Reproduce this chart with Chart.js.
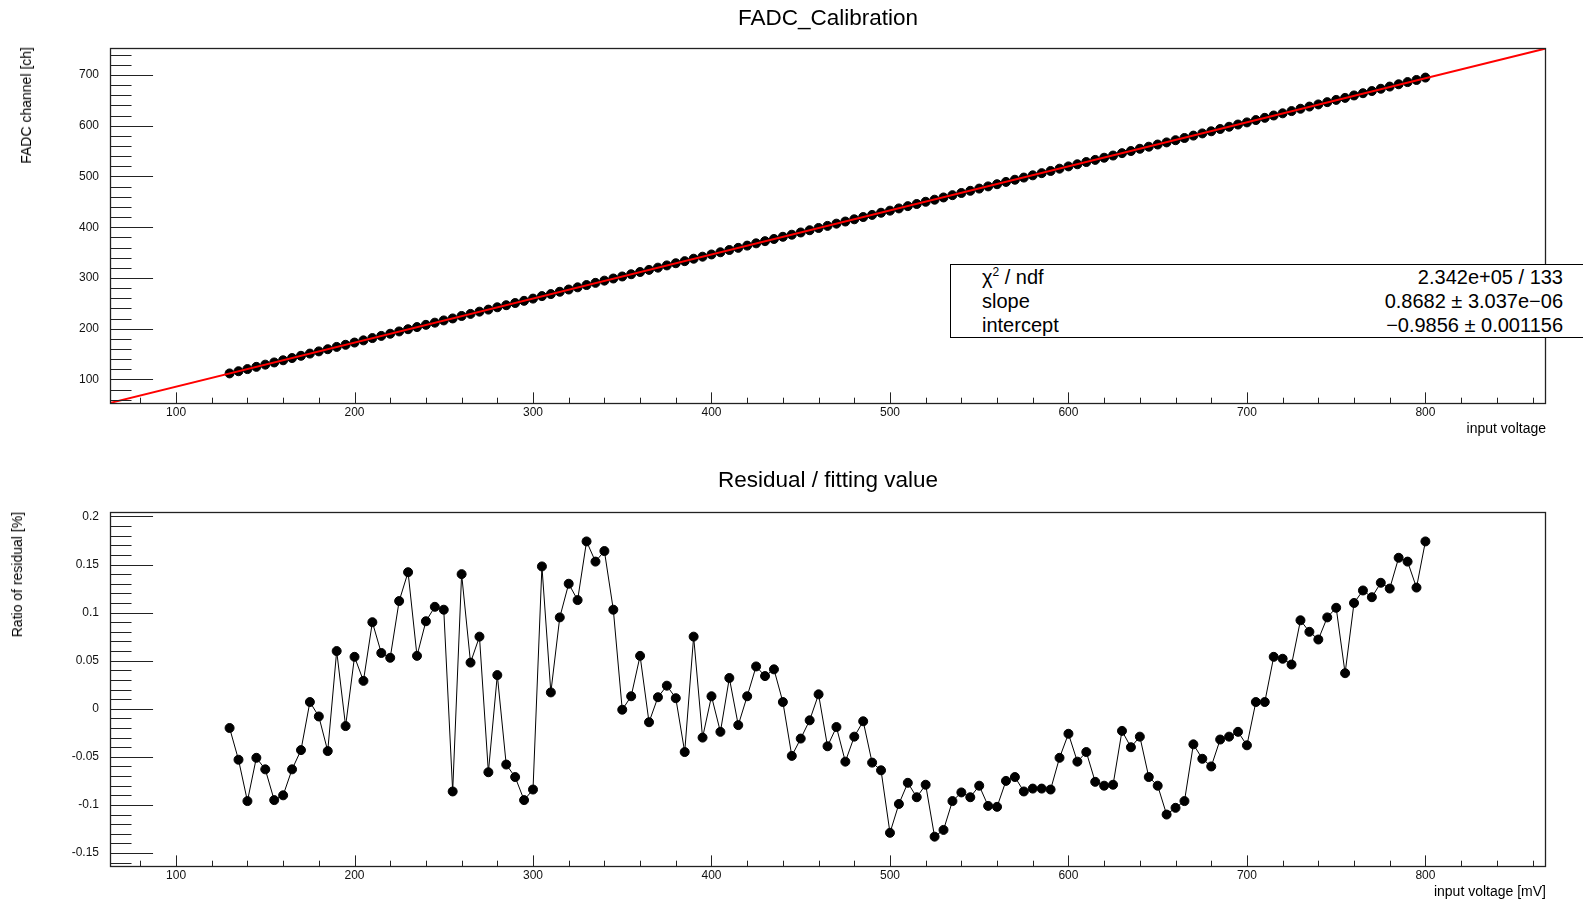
<!DOCTYPE html>
<html>
<head>
<meta charset="utf-8">
<script src="https://cdn.jsdelivr.net/npm/chart.js@4.4.0/dist/chart.umd.min.js"></script>
<style>
  html, body { margin: 0; padding: 0; background: #fff; overflow: hidden; }
  body { width: 1583px; height: 899px; position: relative; font-family: "Liberation Sans", Arial, sans-serif; color: #000; }
  canvas { position: absolute; left: 0; }
  .titulo { position: absolute; font-size: 22.5px; line-height: 26px; white-space: nowrap; transform: translate(-50%, -50%); }
  .ytitulo { position: absolute; font-size: 14px; line-height: 16px; white-space: nowrap; transform-origin: 0 0; transform: rotate(-90deg) translateX(-100%); }
  .xtitulo { position: absolute; right: 37px; font-size: 14px; line-height: 16px; white-space: nowrap; }
  #stats { position: absolute; left: 950px; top: 264px; width: 700px; height: 72px; border: 1px solid #000; background: #fff; font-size: 20px; }
  #stats .fila { position: absolute; left: 31px; width: 581px; height: 24px; line-height: 24px; display: flex; justify-content: space-between; }
  #stats sup { font-size: 12px; line-height: 0; vertical-align: 8px; }
</style>
</head>
<body>
<canvas id="graficoCal" width="1583" height="450" style="top:0"></canvas>
<canvas id="graficoRes" width="1583" height="449" style="top:450px"></canvas>

<div class="titulo" style="left:828px; top:18px">FADC_Calibration</div>
<div class="titulo" style="left:828px; top:480px">Residual / fitting value</div>
<div class="ytitulo" style="left:18px; top:47px">FADC channel [ch]</div>
<div class="ytitulo" style="left:9px; top:512px">Ratio of residual [%]</div>
<div class="xtitulo" style="top:420px">input voltage</div>
<div class="xtitulo" style="top:883px">input voltage [mV]</div>

<div id="stats">
  <div class="fila" style="top:0"><span>&chi;<sup>2</sup> / ndf</span><span>2.342e+05 / 133</span></div>
  <div class="fila" style="top:24px"><span>slope</span><span>0.8682 &plusmn; 3.037e&minus;06</span></div>
  <div class="fila" style="top:48px"><span>intercept</span><span>&minus;0.9856 &plusmn; 0.001156</span></div>
</div>

<script>
// input voltage [mV]
var voltaje = [130, 135, 140, 145, 150, 155, 160, 165, 170, 175, 180, 185, 190, 195, 200, 205, 210, 215, 220, 225,
    230, 235, 240, 245, 250, 255, 260, 265, 270, 275, 280, 285, 290, 295, 300, 305, 310, 315, 320, 325,
    330, 335, 340, 345, 350, 355, 360, 365, 370, 375, 380, 385, 390, 395, 400, 405, 410, 415, 420, 425,
    430, 435, 440, 445, 450, 455, 460, 465, 470, 475, 480, 485, 490, 495, 500, 505, 510, 515, 520, 525,
    530, 535, 540, 545, 550, 555, 560, 565, 570, 575, 580, 585, 590, 595, 600, 605, 610, 615, 620, 625,
    630, 635, 640, 645, 650, 655, 660, 665, 670, 675, 680, 685, 690, 695, 700, 705, 710, 715, 720, 725,
    730, 735, 740, 745, 750, 755, 760, 765, 770, 775, 780, 785, 790, 795, 800];

// FADC channel [ch]
var canalFADC = [111.9, 116.2, 120.4, 124.8, 129.2, 133.5, 137.8, 142.2, 146.6, 151.0, 155.3, 159.6, 164.1, 168.3, 172.7, 177.0, 181.5, 185.8, 190.1, 194.6,
    199.0, 203.2, 207.6, 211.9, 216.3, 220.2, 225.1, 229.2, 233.6, 237.6, 242.2, 246.3, 250.6, 254.9, 259.3, 264.2, 268.2, 272.8, 277.2, 281.5,
    286.0, 290.3, 294.7, 298.9, 302.9, 307.3, 311.7, 315.9, 320.3, 324.7, 329.0, 333.1, 337.9, 341.9, 346.3, 350.6, 355.1, 359.3, 363.7, 368.2,
    372.5, 376.8, 381.1, 385.2, 389.6, 394.0, 398.5, 402.6, 407.0, 411.2, 415.6, 420.0, 424.2, 428.5, 432.6, 437.0, 441.5, 445.7, 450.1, 454.2,
    458.6, 463.1, 467.4, 471.7, 476.1, 480.4, 484.7, 489.2, 493.5, 497.8, 502.2, 506.5, 510.8, 515.3, 519.8, 524.0, 528.4, 532.6, 536.9, 541.2,
    545.9, 550.1, 554.5, 558.6, 562.9, 567.1, 571.4, 575.8, 580.5, 584.8, 589.0, 593.5, 597.9, 602.3, 606.5, 611.1, 615.5, 620.1, 624.4, 628.8,
    633.4, 637.7, 641.9, 646.4, 650.8, 654.8, 659.6, 664.0, 668.3, 672.8, 677.1, 681.6, 685.9, 690.1, 694.8];

// Ratio of residual [%]
var residuo = [-0.020, -0.053, -0.096, -0.051, -0.063, -0.095, -0.090, -0.063, -0.043, 0.007, -0.008, -0.044, 0.060, -0.018, 0.054, 0.029, 0.090, 0.058, 0.053, 0.112,
    0.142, 0.055, 0.091, 0.106, 0.103, -0.086, 0.140, 0.048, 0.075, -0.066, 0.035, -0.058, -0.071, -0.095, -0.084, 0.148, 0.017, 0.095, 0.130, 0.113,
    0.174, 0.153, 0.164, 0.103, -0.001, 0.013, 0.055, -0.014, 0.012, 0.024, 0.011, -0.045, 0.075, -0.030, 0.013, -0.024, 0.032, -0.017, 0.013, 0.044,
    0.034, 0.041, 0.007, -0.049, -0.031, -0.012, 0.015, -0.039, -0.019, -0.055, -0.029, -0.013, -0.056, -0.064, -0.129, -0.099, -0.077, -0.092, -0.079, -0.133,
    -0.126, -0.096, -0.087, -0.092, -0.080, -0.101, -0.102, -0.075, -0.071, -0.086, -0.083, -0.083, -0.084, -0.051, -0.026, -0.055, -0.045, -0.076, -0.080, -0.079,
    -0.023, -0.040, -0.029, -0.071, -0.080, -0.110, -0.103, -0.096, -0.037, -0.052, -0.060, -0.032, -0.029, -0.024, -0.038, 0.007, 0.007, 0.054, 0.052, 0.046,
    0.092, 0.080, 0.072, 0.095, 0.105, 0.037, 0.110, 0.123, 0.116, 0.131, 0.125, 0.157, 0.153, 0.126, 0.174];

// parametros del ajuste (caja de estadisticas)
var pendiente = 0.8682;
var intercepto = -0.9856;

// etiquetas de los ejes
var ticksX = [100, 200, 300, 400, 500, 600, 700, 800];
var ticksCanal = [100, 200, 300, 400, 500, 600, 700];
var ticksResiduo = [-0.15, -0.1, -0.05, 0, 0.05, 0.1, 0.15, 0.2];
var etiquetasResiduo = ['-0.15', '-0.1', '-0.05', '0', '0.05', '0.1', '0.15', '0.2'];

var rangoX = [63, 867];
var rangoCanal = [53.6, 753.1];
var rangoResiduo = [-0.1635, 0.2046];

function marcas(desde, hasta, paso) {
    var lista = [];
    for (var v = desde; v <= hasta + paso / 1000; v += paso) lista.push(Math.round(v / paso) * paso);
    return lista;
}

// marco y ticks hacia adentro, estilo ROOT
var marcoRoot = {
    id: 'marcoRoot',
    afterDatasetsDraw: function (chart, args, op) {
        var ctx = chart.ctx, a = chart.chartArea;
        var sx = chart.scales.x, sy = chart.scales.y;
        var largoY = 0.03 * a.width, largoX = 0.03 * a.height;
        ctx.save();
        ctx.strokeStyle = '#222';
        ctx.lineWidth = 1;
        ctx.beginPath();
        marcas(op.xMenor[0], op.xMenor[1], op.xMenor[2]).forEach(function (v) {
            if (v < sx.min || v > sx.max) return;
            var px = Math.round(sx.getPixelForValue(v)) + 0.5;
            var mayor = Math.abs(v / op.xMayor - Math.round(v / op.xMayor)) < 1e-6;
            ctx.moveTo(px, a.bottom);
            ctx.lineTo(px, a.bottom - (mayor ? largoX : largoX / 2));
        });
        marcas(op.yMenor[0], op.yMenor[1], op.yMenor[2]).forEach(function (v) {
            if (v < sy.min || v > sy.max) return;
            var py = Math.round(sy.getPixelForValue(v)) + 0.5;
            var mayor = Math.abs(v / op.yMayor - Math.round(v / op.yMayor)) < 1e-6;
            ctx.moveTo(a.left, py);
            ctx.lineTo(a.left + (mayor ? largoY : largoY / 2), py);
        });
        ctx.stroke();
        ctx.lineWidth = 1.3;
        ctx.strokeRect(Math.round(a.left) + 0.5, Math.round(a.top) + 0.5, Math.round(a.width), Math.round(a.height));
        ctx.restore();
    }
};

var fuenteTicks = { family: '"Liberation Sans", Arial, sans-serif', size: 12 };

function ejeX(alto, relleno) {
    return {
        type: 'linear', min: rangoX[0], max: rangoX[1],
        grid: { display: false, drawTicks: false }, border: { display: false },
        afterBuildTicks: function (s) { s.ticks = ticksX.map(function (v) { return { value: v }; }); },
        afterFit: function (s) { s.height = alto; },
        ticks: { font: fuenteTicks, color: '#111', padding: relleno, maxRotation: 0, autoSkip: false }
    };
}

// panel superior: calibracion
var puntosCal = voltaje.map(function (v, i) { return { x: v, y: canalFADC[i] }; });
var lineaAjuste = rangoX.map(function (v) { return { x: v, y: pendiente * v + intercepto }; });

new Chart(document.getElementById('graficoCal'), {
    type: 'scatter',
    data: {
        datasets: [{
            label: 'ajuste',
            data: lineaAjuste,
            showLine: true,
            borderColor: '#ff0000',
            borderWidth: 2,
            pointRadius: 0,
            order: 0
        }, {
            label: 'FADC',
            data: puntosCal,
            backgroundColor: '#000',
            borderColor: '#000',
            pointRadius: 4.5,
            order: 1
        }]
    },
    options: {
        responsive: false,
        animation: false,
        layout: { padding: { left: 0, top: 48, right: 38, bottom: 17 } },
        plugins: {
            legend: { display: false },
            tooltip: { enabled: false },
            marcoRoot: { xMayor: 100, xMenor: [60, 860, 20], yMayor: 100, yMenor: [60, 740, 20] }
        },
        scales: {
            x: ejeX(30, 2),
            y: {
                type: 'linear', min: rangoCanal[0], max: rangoCanal[1],
                grid: { display: false, drawTicks: false }, border: { display: false },
                afterBuildTicks: function (s) { s.ticks = ticksCanal.map(function (v) { return { value: v }; }); },
                afterFit: function (s) { s.width = 110; },
                ticks: { font: fuenteTicks, color: '#111', padding: 11 }
            }
        }
    },
    plugins: [marcoRoot]
});

// panel inferior: residuos
var puntosRes = voltaje.map(function (v, i) { return { x: v, y: residuo[i] }; });

new Chart(document.getElementById('graficoRes'), {
    type: 'scatter',
    data: {
        datasets: [{
            label: 'residuo',
            data: puntosRes,
            showLine: true,
            borderColor: '#000',
            borderWidth: 1,
            backgroundColor: '#000',
            pointRadius: 4.5
        }]
    },
    options: {
        responsive: false,
        animation: false,
        layout: { padding: { left: 0, top: 62, right: 38, bottom: 3 } },
        plugins: {
            legend: { display: false },
            tooltip: { enabled: false },
            marcoRoot: { xMayor: 100, xMenor: [60, 860, 20], yMayor: 0.05, yMenor: [-0.16, 0.2, 0.01] }
        },
        scales: {
            x: ejeX(30, 2),
            y: {
                type: 'linear', min: rangoResiduo[0], max: rangoResiduo[1],
                grid: { display: false, drawTicks: false }, border: { display: false },
                afterBuildTicks: function (s) { s.ticks = ticksResiduo.map(function (v) { return { value: v }; }); },
                afterFit: function (s) { s.width = 110; },
                ticks: {
                    font: fuenteTicks, color: '#111', padding: 11,
                    callback: function (valor, i) { return etiquetasResiduo[i]; }
                }
            }
        }
    },
    plugins: [marcoRoot]
});
</script>
</body>
</html>
